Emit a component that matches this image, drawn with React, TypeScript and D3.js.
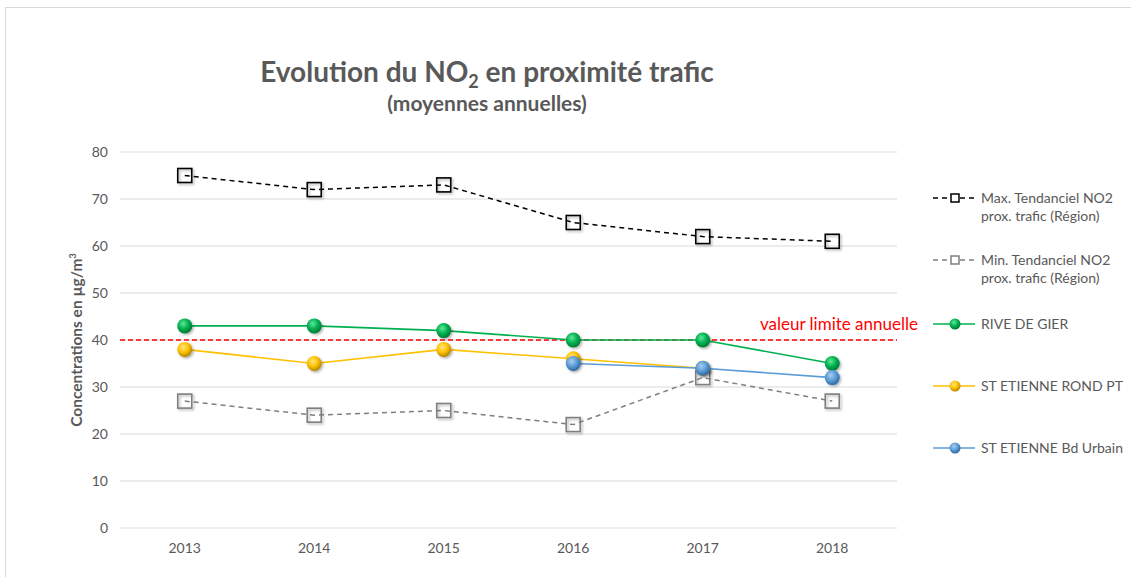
import React from "react";
import * as d3 from "d3";

const years = ["2013", "2014", "2015", "2016", "2017", "2018"];
const maxTendanciel = [75, 72, 73, 65, 62, 61];
const minTendanciel = [27, 24, 25, 22, 32, 27];
const riveDeGier = [43, 43, 42, 40, 40, 35];
const stEtienneRondPt: (number | null)[] = [38, 35, 38, 36, 34, null];
const stEtienneBdUrbain: (number | null)[] = [null, null, null, 35, 34, 32];
const yTicks = [0, 10, 20, 30, 40, 50, 60, 70, 80];
const limitValue = 40;

const FONT = "Lato, 'Open Sans', sans-serif";
const TXT = "#595959";

export default function App() {
  const W = 1131, H = 577;
  const left = 120, right = 897, top = 152, bottom = 528;
  const x = d3.scaleBand<string>().domain(years).range([left, right]);
  const y = d3.scaleLinear().domain([0, 80]).range([bottom, top]);
  const cx = (yr: string) => (x(yr) as number) + x.bandwidth() / 2;

  const line = d3
    .line<number | null>()
    .defined((d) => d !== null)
    .x((_, i) => cx(years[i]))
    .y((d) => y(d as number));

  const circleSeries = [
    { name: "RIVE DE GIER", data: riveDeGier, color: "#00b050", light: "#5fe89a", dark: "#007a35", ly: 324 },
    { name: "ST ETIENNE ROND PT", data: stEtienneRondPt, color: "#ffc000", light: "#ffe680", dark: "#b38600", ly: 386 },
    { name: "ST ETIENNE Bd Urbain", data: stEtienneBdUrbain, color: "#5b9bd5", light: "#a9cdf0", dark: "#2e6aa3", ly: 448 },
  ];
  const squareSeries = [
    { name: ["Max. Tendanciel NO2", "prox. trafic (Région)"], data: maxTendanciel, color: "#000000", ly: 198 },
    { name: ["Min. Tendanciel NO2", "prox. trafic (Région)"], data: minTendanciel, color: "#7f7f7f", ly: 260 },
  ];

  const sq = 14;
  const legX1 = 933, legX2 = 975, legM = 955, legT = 981;

  return (
    <svg width={W} height={H} style={{ position: "absolute", left: 0, top: 0, background: "#fff" }} fontFamily={FONT}>
      <defs>
        {circleSeries.map((s, i) => (
          <radialGradient key={i} id={`g${i}`} cx="40%" cy="35%" r="65%">
            <stop offset="0%" stopColor={s.light} />
            <stop offset="55%" stopColor={s.color} />
            <stop offset="100%" stopColor={s.dark} />
          </radialGradient>
        ))}
        <filter id="sh" x="-50%" y="-50%" width="200%" height="200%">
          <feDropShadow dx="1.5" dy="1.5" stdDeviation="1" floodColor="#000" floodOpacity="0.3" />
        </filter>
      </defs>
      <rect x={0} y={0} width={W} height={H} fill="#fff" />
      <rect x={5.5} y={7.5} width={W} height={H} fill="none" stroke="#d9d9d9" strokeWidth={1} />

      {/* Title */}
      <text x={487} y={82} textAnchor="middle" fontSize={28} fontWeight="bold" fill={TXT}>
        Evolution du NO<tspan fontSize={18} dy={6}>2</tspan>
        <tspan dy={-6}> en proximité trafic</tspan>
      </text>
      <text x={487} y={111} textAnchor="middle" fontSize={21} fontWeight="bold" fill={TXT}>
        (moyennes annuelles)
      </text>

      {/* Grid */}
      {yTicks.map((t) => (
        <g key={t}>
          <line x1={left} x2={right} y1={y(t)} y2={y(t)} stroke="#d9d9d9" strokeWidth={1} />
          <text x={108} y={y(t) + 5} textAnchor="end" fontSize={14} fill={TXT}>{t}</text>
        </g>
      ))}
      {years.map((yr) => (
        <text key={yr} x={cx(yr)} y={553} textAnchor="middle" fontSize={14} fill={TXT}>{yr}</text>
      ))}

      {/* Y label */}
      <text transform={`translate(82,${340}) rotate(-90)`} textAnchor="middle" fontSize={15.5} fontWeight="bold" fill={TXT}>
        Concentrations en µg/m<tspan fontSize={9} dy={-6}>3</tspan>
      </text>

      {/* Limit line */}
      <line x1={left} x2={right} y1={y(limitValue)} y2={y(limitValue)} stroke="#ff0000" strokeWidth={1.3} strokeDasharray="5,3" />
      <text x={918} y={y(limitValue) - 10} textAnchor="end" fontSize={17} fill="#ff0000">valeur limite annuelle</text>

      {/* square series lines */}
      {squareSeries.map((s, i) => (
        <path key={i} d={line(s.data) || ""} fill="none" stroke={s.color} strokeWidth={1.5} strokeDasharray="5,4" />
      ))}
      {squareSeries.map((s, i) =>
        s.data.map((v, j) => (
          <rect key={`${i}-${j}`} x={cx(years[j]) - sq / 2} y={y(v) - sq / 2} width={sq} height={sq}
            fill="none" stroke={s.color} strokeWidth={1.6} filter="url(#sh)" />
        ))
      )}

      {/* circle series */}
      {circleSeries.map((s, i) => (
        <g key={i}>
          <path d={line(s.data) || ""} fill="none" stroke={s.color} strokeWidth={1.6} />
          {s.data.map((v, j) =>
            v === null ? null : (
              <circle key={j} cx={cx(years[j])} cy={y(v)} r={7.5} fill={`url(#g${i})`} filter="url(#sh)" />
            )
          )}
        </g>
      ))}

      {/* Legend */}
      {squareSeries.map((s, i) => (
        <g key={i}>
          <line x1={legX1} x2={legX2} y1={s.ly} y2={s.ly} stroke={s.color} strokeWidth={1.5} strokeDasharray="5,4" />
          <rect x={legM - 4} y={s.ly - 4} width={8} height={8} fill="#fff" stroke={s.color} strokeWidth={1.5} />
          <text x={legT} y={s.ly + 5} fontSize={14} fill={TXT}>{s.name[0]}</text>
          <text x={legT} y={s.ly + 23} fontSize={14} fill={TXT}>{s.name[1]}</text>
        </g>
      ))}
      {circleSeries.map((s, i) => (
        <g key={i}>
          <line x1={legX1} x2={legX2} y1={s.ly} y2={s.ly} stroke={s.color} strokeWidth={1.6} />
          <circle cx={legM} cy={s.ly} r={5.5} fill={`url(#g${i})`} />
          <text x={legT} y={s.ly + 5} fontSize={14} fill={TXT}>{s.name}</text>
        </g>
      ))}
    </svg>
  );
}
